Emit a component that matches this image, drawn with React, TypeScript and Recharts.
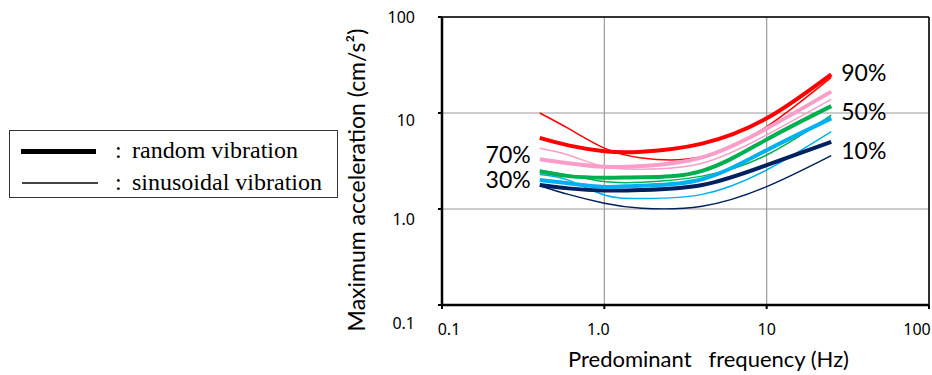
import { CartesianGrid, Line, LineChart, ReferenceDot, ReferenceLine, XAxis, YAxis } from 'recharts';

// predominant frequency (Hz) sample points along each curve
const freqHz = [0.4, 0.6, 1, 1.7, 4, 10, 25];

// maximum acceleration (cm/s2)
const random90 = [5.5, 4.6, 4.0, 3.95, 4.8, 8.8, 25.3];
const sine90 = [10, 6.9, 4.3, 3.4, 3.5, 7.2, 23.5];
const random70 = [3.3, 3.0, 2.75, 2.8, 3.45, 6.9, 16.7];
const sine70 = [4.3, 3.65, 2.75, 2.6, 3.0, 5.9, 13.9];
const random50 = [2.45, 2.2, 2.12, 2.14, 2.5, 5.3, 11.8];
const sine50 = [2.55, 2.26, 1.93, 1.9, 2.2, 3.65, 9.5];
const random30 = [2.0, 1.85, 1.7, 1.75, 2.04, 4.1, 8.8];
const sine30 = [2.29, 2.0, 1.4, 1.29, 1.42, 2.55, 6.4];
const random10 = [1.78, 1.64, 1.56, 1.58, 1.78, 2.87, 5.0];
const sine10 = [1.75, 1.42, 1.15, 1.02, 1.07, 1.71, 3.6];

const axisTicks = [0.1, 1, 10, 100];
const axisTickLabels = ['0.1', '1.0', '10', '100'];

const rightTags = ['90%', '50%', '10%'];
const rightTagAt = [26, 10.2, 4.06];
const leftTags = ['70%', '30%'];
const leftTagAt = [3.65, 2.0];

const data = freqHz.map((f, i) => ({
  f,
  random90: random90[i],
  sine90: sine90[i],
  random70: random70[i],
  sine70: sine70[i],
  random50: random50[i],
  sine50: sine50[i],
  random30: random30[i],
  sine30: sine30[i],
  random10: random10[i],
  sine10: sine10[i],
}));

const RED = '#FF0000';
const PINK = '#FA9DC8';
const GREEN = '#00B050';
const SKY = '#00B0F0';
const NAVY = '#002060';

const thinSeries = [
  { key: 'sine10', color: NAVY },
  { key: 'sine30', color: SKY },
  { key: 'sine50', color: GREEN },
  { key: 'sine70', color: PINK },
  { key: 'sine90', color: RED },
];
const thickSeries = [
  { key: 'random10', color: NAVY },
  { key: 'random30', color: SKY },
  { key: 'random50', color: GREEN },
  { key: 'random70', color: PINK },
  { key: 'random90', color: RED },
];

const tickFont = { fontFamily: '"Noto Sans", sans-serif', fontSize: 16, fill: '#000' };
const titleFont = '"Lato", sans-serif';

const label = (v: number) => axisTickLabels[axisTicks.indexOf(v)] ?? String(v);

function XTick({ x, y, payload }: any) {
  const shift = [7, -6, 0, -12][axisTicks.indexOf(payload.value)] ?? 0;
  return (
    <text x={x + shift} y={y} textAnchor="middle" dominantBaseline="central" {...tickFont}>
      {label(payload.value)}
    </text>
  );
}

function YTick({ x, y, payload }: any) {
  const drop = [18, 10, 7, 0][axisTicks.indexOf(payload.value)] ?? 0;
  return (
    <text x={x} y={y + drop} textAnchor="end" dominantBaseline="central" {...tickFont}>
      {label(payload.value)}
    </text>
  );
}

function Legend() {
  const txt = { position: 'absolute' as const, fontFamily: '"Liberation Serif", serif', fontSize: 24, color: '#000', lineHeight: '28px', whiteSpace: 'pre' as const };
  return (
    <div style={{ position: 'absolute', left: 9, top: 130, width: 329, height: 68, border: '1.5px solid #333', boxSizing: 'border-box' }}>
      <div style={{ position: 'absolute', left: 11, top: 18, width: 75, height: 5, background: '#000' }} />
      <div style={{ position: 'absolute', left: 12, top: 51, width: 76, height: 1.5, background: '#444' }} />
      <div style={{ ...txt, left: 105, top: 5 }}>:</div>
      <div style={{ ...txt, left: 122, top: 5 }}>random vibration</div>
      <div style={{ ...txt, left: 105, top: 37 }}>:</div>
      <div style={{ ...txt, left: 122, top: 37 }}>sinusoidal vibration</div>
    </div>
  );
}

export default function App() {
  return (
    <div style={{ position: 'absolute', left: 0, top: 0, width: 932, height: 375, background: '#fff' }}>
      <Legend />
      <LineChart width={932} height={375} data={data} margin={{ top: 17, right: 3, left: 342, bottom: 40 }}>
        <CartesianGrid stroke="#9a9a9a" strokeWidth={1.2} />
        <XAxis
          dataKey="f"
          type="number"
          scale="log"
          domain={[0.1, 100]}
          ticks={axisTicks}
          interval={0}
          allowDataOverflow
          height={30}
          axisLine={{ stroke: '#000', strokeWidth: 2.5 }}
          tickLine={{ stroke: '#000', strokeWidth: 2 }}
          tickSize={4}
          tickMargin={20}
          tick={<XTick />}
          label={{
            value: 'Predominant\u00A0\u00A0 frequency (Hz)',
            position: 'bottom',
            offset: 16,
            dx: 23,
            style: { fontFamily: titleFont, fontSize: 22, fill: '#000' },
          }}
        />
        <YAxis
          type="number"
          scale="log"
          domain={[0.1, 100]}
          ticks={axisTicks}
          interval={0}
          allowDataOverflow
          width={100}
          axisLine={{ stroke: '#000', strokeWidth: 2.5 }}
          tickLine={{ stroke: '#000', strokeWidth: 2 }}
          tickSize={4}
          tickMargin={23}
          tick={<YTick />}
          label={{
            value: 'Maximum acceleration (cm/s²)',
            angle: -90,
            position: 'center',
            dx: -35,
            dy: 19,
            style: { fontFamily: titleFont, fontSize: 23, fill: '#000' },
          }}
        />
        <ReferenceLine y={100} stroke="#000" strokeWidth={1.5} />
        <ReferenceLine x={100} stroke="#000" strokeWidth={1.5} />
        {thinSeries.map((s) => (
          <Line key={s.key} type="natural" dataKey={s.key} stroke={s.color} strokeWidth={1.5} dot={false} isAnimationActive={false} />
        ))}
        {thickSeries.map((s) => (
          <Line key={s.key} type="natural" dataKey={s.key} stroke={s.color} strokeWidth={4} dot={false} isAnimationActive={false} />
        ))}
        {rightTags.map((t, i) => (
          <ReferenceDot
            key={t}
            x={25}
            y={rightTagAt[i]}
            r={0}
            fill="none"
            stroke="none"
            label={{ value: t, position: 'right', offset: 10, fontSize: 23, fontFamily: titleFont, fill: '#000' }}
          />
        ))}
        {leftTags.map((t, i) => (
          <ReferenceDot
            key={t}
            x={0.4}
            y={leftTagAt[i]}
            r={0}
            fill="none"
            stroke="none"
            label={{ value: t, position: 'left', offset: 9, fontSize: 23, fontFamily: titleFont, fill: '#000' }}
          />
        ))}
      </LineChart>
    </div>
  );
}
